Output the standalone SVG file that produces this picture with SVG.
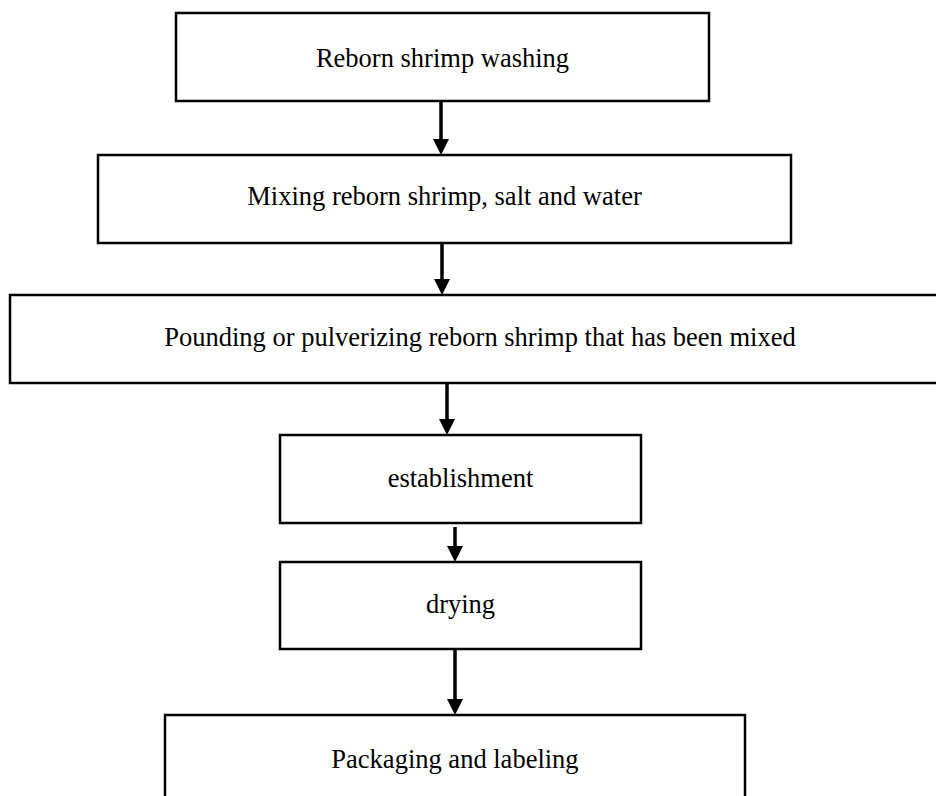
<svg xmlns="http://www.w3.org/2000/svg" width="936" height="796" viewBox="0 0 936 796">
<defs>
<style>
.box{fill:#ffffff;stroke:#000000;stroke-width:2.5}
.lbl{font-family:"Liberation Serif","Times New Roman",serif;font-size:26.5px;fill:#000000;text-anchor:middle}
.arr{stroke:#000000;stroke-width:3.5;fill:none;marker-end:url(#ah)}
</style>
<marker id="ah" markerUnits="userSpaceOnUse" markerWidth="16" markerHeight="16" refX="0" refY="8" orient="auto">
<path d="M0,0 L16,8 L0,16 Z" fill="#000000"/>
</marker>
</defs>
<rect width="936" height="796" fill="#ffffff"/>
<g id="connectors">
<line class="arr" x1="441" y1="101" x2="441" y2="139"/>
<line class="arr" x1="442" y1="243" x2="442" y2="279"/>
<line class="arr" x1="447" y1="383" x2="447" y2="419"/>
<line class="arr" x1="455" y1="527" x2="455" y2="546"/>
<line class="arr" x1="455" y1="649" x2="455" y2="699"/>
</g>
<g id="n1">
<rect class="box" x="176" y="13" width="533" height="88"/>
<text class="lbl" x="442.5" y="67">Reborn shrimp washing</text>
</g>
<g id="n2">
<rect class="box" x="98" y="155" width="693" height="88"/>
<text class="lbl" x="444.5" y="205">Mixing reborn shrimp, salt and water</text>
</g>
<g id="n3">
<rect class="box" x="10" y="295" width="945" height="88"/>
<text class="lbl" x="480" y="346">Pounding or pulverizing reborn shrimp that has been mixed</text>
</g>
<g id="n4">
<rect class="box" x="280" y="435" width="361" height="88"/>
<text class="lbl" x="460.5" y="487">establishment</text>
</g>
<g id="n5">
<rect class="box" x="280" y="562" width="361" height="87"/>
<text class="lbl" x="460.5" y="613">drying</text>
</g>
<g id="n6">
<rect class="box" x="165" y="715" width="580" height="100"/>
<text class="lbl" x="455" y="768">Packaging and labeling</text>
</g>
</svg>
